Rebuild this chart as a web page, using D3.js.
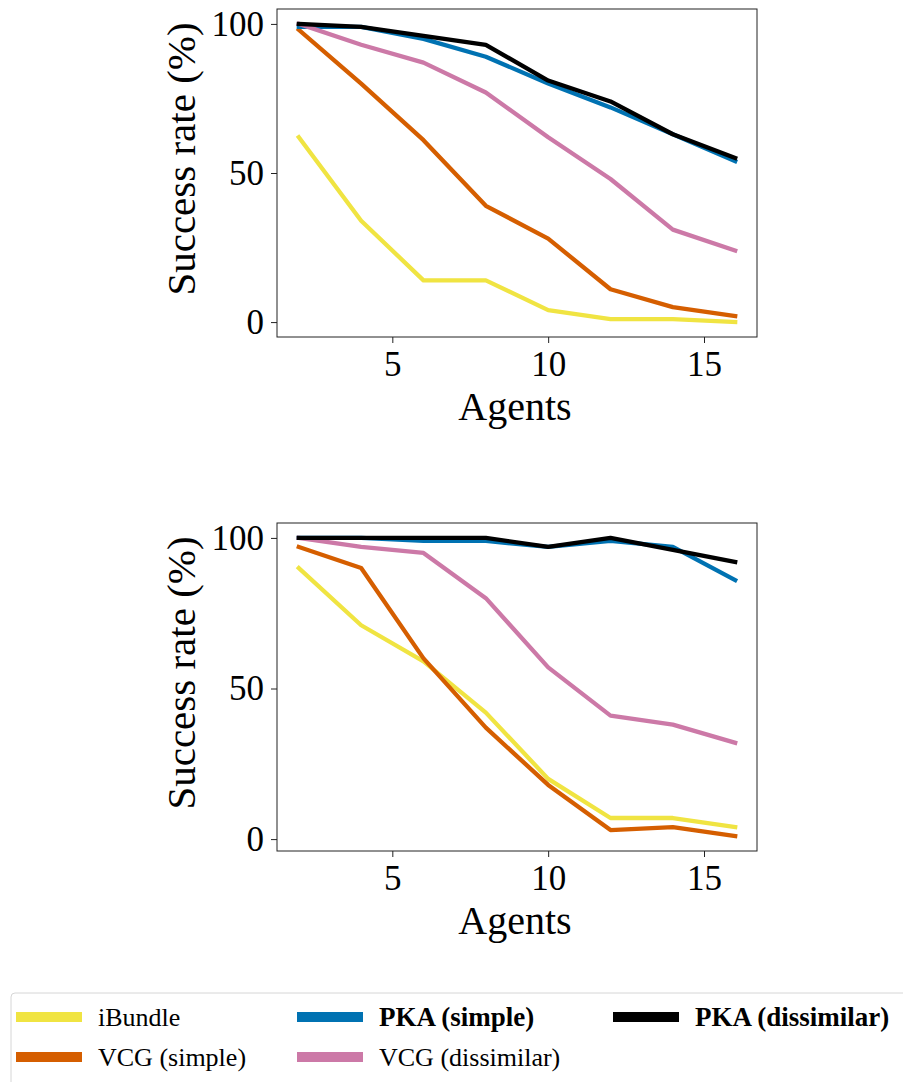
<!DOCTYPE html>
<html>
<head>
<meta charset="utf-8">
<script src="https://cdn.jsdelivr.net/npm/d3@7"></script>
<style>
	body { margin: 0; background: #fff; }
	svg text { font-family: "Liberation Serif", "DejaVu Serif", serif; fill: #000; }
</style>
</head>
<body>
<div id="chart"></div>
<script>
// data
const agents = [2, 4, 6, 8, 10, 12, 14, 16];
const seriesNames = ["iBundle", "VCG (simple)", "PKA (simple)", "VCG (dissimilar)", "PKA (dissimilar)"];
const seriesColors = ["#F0E442", "#D55E00", "#0072B2", "#CC79A7", "#000000"];
const seriesBold = [false, false, true, false, true];

// top panel
const topIBundle = [62, 34, 14, 14, 4, 1, 1, 0];
const topVcgSimple = [98, 80, 61, 39, 28, 11, 5, 2];
const topPkaSimple = [99, 99, 95, 89, 80, 72, 63, 54];
const topVcgDissimilar = [100, 93, 87, 77, 62, 48, 31, 24];
const topPkaDissimilar = [100, 99, 96, 93, 81, 74, 63, 55];

// bottom panel
const botIBundle = [90, 71, 59, 42, 20, 7, 7, 4];
const botVcgSimple = [97, 90, 60, 37, 18, 3, 4, 1];
const botPkaSimple = [100, 100, 99, 99, 97, 99, 97, 86];
const botVcgDissimilar = [100, 97, 95, 80, 57, 41, 38, 32];
const botPkaDissimilar = [100, 100, 100, 100, 97, 100, 96, 92];

const xTicks = [5, 10, 15];
const yTicks = [0, 50, 100];

const W = 903, H = 1082;
const svg = d3.select("#chart").append("svg")
	.attr("width", W)
	.attr("height", H);

function drawPanel(top, yDomain, seriesList) {
	const left = 277, right = 757, bottom = top + 328;

	const x = d3.scaleLinear().domain([1.3, 16.7]).range([left, right]);
	const y = d3.scaleLinear().domain(yDomain).range([bottom, top]);

	const g = svg.append("g");

	const line = d3.line()
		.x((d, i) => x(agents[i]))
		.y(d => y(d));

	seriesList.forEach((vals, i) => {
		g.append("path")
			.datum(vals)
			.attr("d", line)
			.attr("fill", "none")
			.attr("stroke", seriesColors[i])
			.attr("stroke-width", 4.3)
			.attr("stroke-linejoin", "round")
			.attr("stroke-linecap", "square");
	});

	// frame
	g.append("rect")
		.attr("x", left).attr("y", top)
		.attr("width", right - left).attr("height", bottom - top)
		.attr("fill", "none")
		.attr("stroke", "#222")
		.attr("stroke-width", 1);

	const xAxis = g.append("g")
		.attr("transform", `translate(0,${bottom})`)
		.call(d3.axisBottom(x).tickValues(xTicks).tickSize(6).tickPadding(6).tickFormat(d3.format("d")));
	xAxis.select(".domain").remove();
	xAxis.selectAll("text").style("font-size", "35px").attr("dy", "0.78em");

	const yAxis = g.append("g")
		.attr("transform", `translate(${left},0)`)
		.call(d3.axisLeft(y).tickValues(yTicks).tickSize(6).tickPadding(7).tickFormat(d3.format("d")));
	yAxis.select(".domain").remove();
	yAxis.selectAll("text").style("font-size", "35px");
	g.selectAll(".tick line").attr("stroke", "#222");

	g.append("text")
		.attr("x", (left + right) / 2 - 2)
		.attr("y", bottom + 83)
		.attr("text-anchor", "middle")
		.style("font-size", "40px")
		.text("Agents");

	g.append("text")
		.attr("transform", `translate(195,${(top + bottom) / 2 - 14}) rotate(-90)`)
		.attr("text-anchor", "middle")
		.style("font-size", "41px")
		.text("Success rate (%)");
}

drawPanel(9, [-5, 105], [topIBundle, topVcgSimple, topPkaSimple, topVcgDissimilar, topPkaDissimilar]);
drawPanel(523, [-3.95, 104.95], [botIBundle, botVcgSimple, botPkaSimple, botVcgDissimilar, botPkaDissimilar]);

// legend, filled column by column like matplotlib with ncol=3
const legend = svg.append("g");
legend.append("rect")
	.attr("x", 11).attr("y", 993)
	.attr("width", 905).attr("height", 110)
	.attr("rx", 4)
	.attr("fill", "#fff")
	.attr("stroke", "#d6d6d6")
	.attr("stroke-width", 1);

const colX = [16, 297, 613];
const rowY = [1017, 1057];
seriesNames.forEach((name, i) => {
	const col = Math.floor(i / 2), row = i % 2;
	const item = legend.append("g").attr("transform", `translate(${colX[col]},${rowY[row]})`);
	item.append("line")
		.attr("x1", 0).attr("x2", 66)
		.attr("stroke", seriesColors[i])
		.attr("stroke-width", 10);
	item.append("text")
		.attr("x", 82)
		.attr("dy", "0.35em")
		.style("font-size", seriesBold[i] ? "27px" : "26px")
		.style("font-weight", seriesBold[i] ? "bold" : "normal")
		.text(name);
});
</script>
</body>
</html>
